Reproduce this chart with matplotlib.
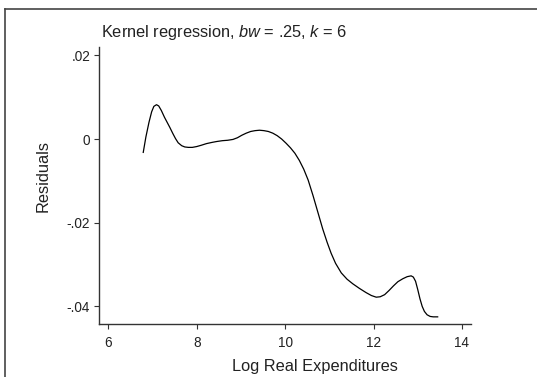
import numpy as np
import matplotlib
matplotlib.use("Agg")
import matplotlib.pyplot as plt
from matplotlib.lines import Line2D

plt.rcParams['font.family'] = ['Liberation Sans', 'DejaVu Sans']
plt.rcParams['mathtext.fontset'] = 'custom'
plt.rcParams['mathtext.it'] = 'Liberation Sans:italic'
plt.rcParams['mathtext.rm'] = 'Liberation Sans'

# Smoothed residuals against log real expenditures
log_exp = [6.79, 6.85, 6.92, 6.98, 7.03, 7.09, 7.14, 7.20, 7.27, 7.33, 7.39,
           7.46, 7.52, 7.58, 7.66, 7.73, 7.81, 7.90, 8.00, 8.10, 8.22, 8.35,
           8.45, 8.58, 8.70, 8.82, 8.92, 9.02, 9.12, 9.22, 9.32, 9.42, 9.52,
           9.62, 9.72, 9.82, 9.92, 10.02, 10.12, 10.22, 10.32, 10.42, 10.52,
           10.63, 10.74, 10.85, 10.95, 11.04, 11.14, 11.27, 11.40, 11.53,
           11.68, 11.83, 11.95, 12.06, 12.15, 12.25, 12.35, 12.45, 12.55,
           12.66, 12.76, 12.85, 12.90, 12.95, 13.00, 13.05, 13.10, 13.15,
           13.21, 13.28, 13.35, 13.45]
residuals = [-0.0032, 0.0005, 0.0040, 0.0065, 0.0078, 0.0082, 0.0079, 0.0068,
             0.0052, 0.0040, 0.0028, 0.0013, 0.0001, -0.0009, -0.0016, -0.0019,
             -0.0020, -0.0020, -0.0018, -0.0015, -0.0011, -0.0008, -0.0006,
             -0.0004, -0.0003, -0.0001, 0.0003, 0.0009, 0.0014, 0.0018, 0.0020,
             0.0021, 0.0020, 0.0018, 0.0014, 0.0008, 0.0000, -0.0010, -0.0021,
             -0.0034, -0.0051, -0.0072, -0.0098, -0.0135, -0.0175, -0.0215,
             -0.0247, -0.0273, -0.0297, -0.0320, -0.0335, -0.0346, -0.0357,
             -0.0367, -0.0374, -0.0378, -0.0377, -0.0372, -0.0362, -0.0351,
             -0.0341, -0.0334, -0.0329, -0.0327, -0.0330, -0.0340, -0.0360,
             -0.0382, -0.0400, -0.0412, -0.0420, -0.0424, -0.0425, -0.0425]

xticks = [6, 8, 10, 12, 14]
yticks = [0.02, 0, -0.02, -0.04]
ytick_labels = ['.02', '0', '-.02', '-.04']

W, H = 537, 377
fig = plt.figure(figsize=(W / 100, H / 100), dpi=100)
ax = fig.add_axes([99.3 / W, 1 - 324.3 / H, (471 - 99.3) / W, (324.3 - 46.7) / H])

ax.plot(log_exp, residuals, color='black', lw=0.9, solid_joinstyle='round')

ax.set_xlim(5.796, 14.204)
ax.set_ylim(-0.04428, 0.02206)
ax.set_xticks(xticks)
ax.set_yticks(yticks)
ax.set_yticklabels(ytick_labels)

txt = '#222222'
for s in ['top', 'right']:
    ax.spines[s].set_visible(False)
for s in ['left', 'bottom']:
    ax.spines[s].set_color('#333333')
    ax.spines[s].set_linewidth(1.0)
ax.tick_params(axis='both', direction='out', length=3.6, width=0.8, color='#333333',
               labelsize=9.8, labelcolor=txt)
ax.tick_params(axis='x', pad=5)
ax.tick_params(axis='y', pad=3)

fig.text(101 / W, 1 - 32 / H, r'Kernel regression, $bw$ = .25, $k$ = 6',
         ha='left', va='center', fontsize=11.8, color=txt)
fig.text(43 / W, 1 - 176 / H, 'Residuals', rotation=90, ha='center', va='center',
         fontsize=11.8, color=txt)
fig.text(314.5 / W, 1 - 366 / H, 'Log Real Expenditures', ha='center', va='center',
         fontsize=11.8, color=txt)

# outer frame: left and top edges only
bx, by = 4.7 / W, 1 - 8.7 / H
fig.add_artist(Line2D([bx, bx], [0, by], transform=fig.transFigure, color='#444444', lw=1.2))
fig.add_artist(Line2D([bx, 1], [by, by], transform=fig.transFigure, color='#444444', lw=1.2))

fig.savefig('out.png', dpi=100)
